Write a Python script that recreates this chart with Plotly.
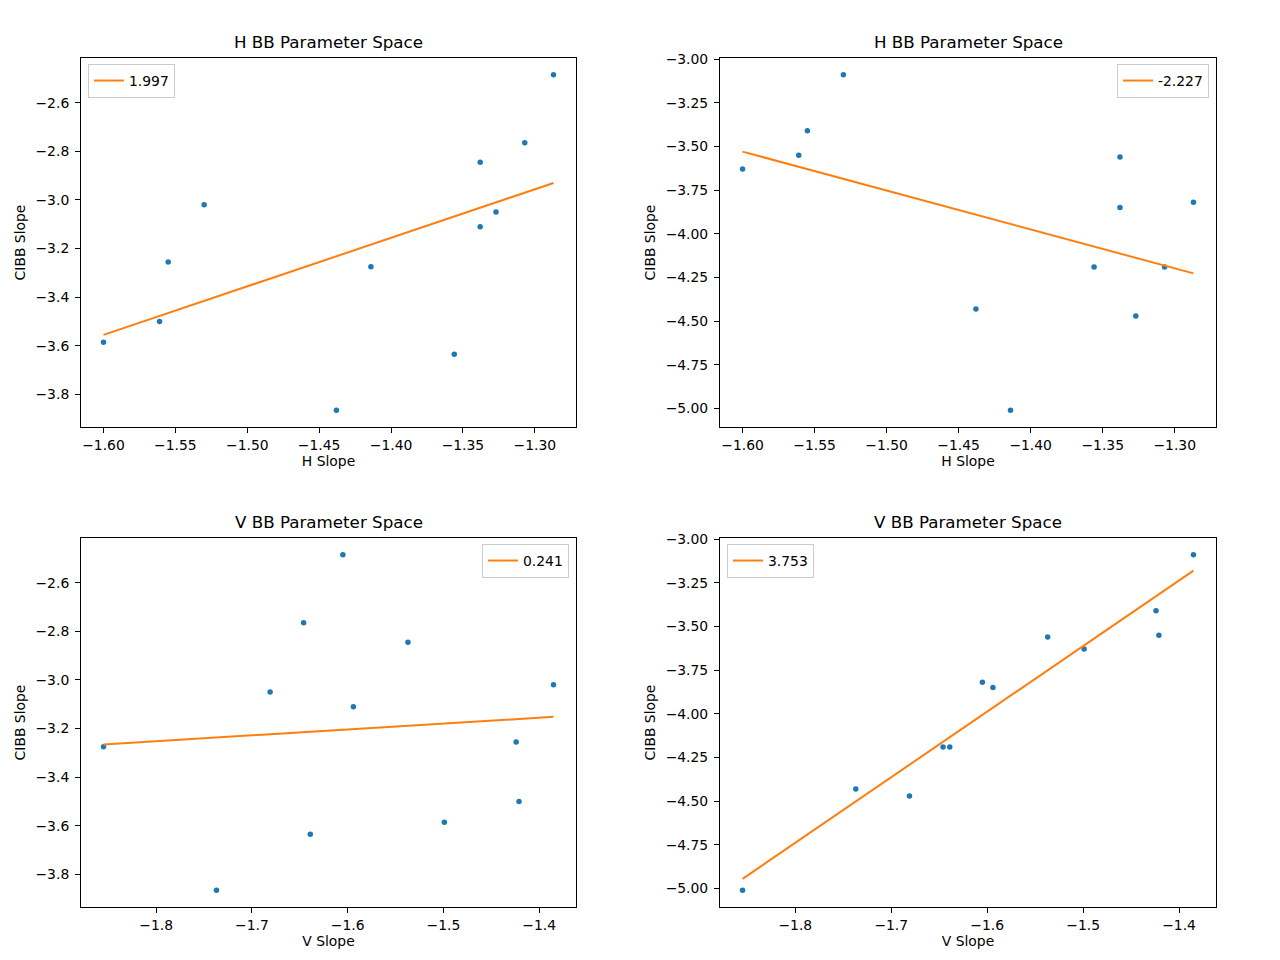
import plotly.graph_objects as go

# one entry per observation
h_slope = [-1.600, -1.561, -1.555, -1.530, -1.438, -1.414, -1.356, -1.338, -1.338, -1.327, -1.307, -1.287]
v_slope = [-1.499, -1.421, -1.424, -1.385, -1.737, -1.855, -1.639, -1.537, -1.594, -1.681, -1.646, -1.605]
cibb_h = [-3.585, -3.500, -3.255, -3.020, -3.865, -3.275, -3.635, -2.845, -3.110, -3.050, -2.765, -2.485]
cibb_v = [-3.630, -3.550, -3.410, -3.090, -4.430, -5.010, -4.190, -3.560, -3.850, -4.470, -4.190, -3.820]

# fitted lines (slope, intercept) as shown in the legends
fit_tl = (1.997, -0.360)
fit_tr = (-2.227, -7.093)
fit_bl = (0.241, -2.818)
fit_br = (3.753, 2.017)

BLUE = "#1f77b4"
ORANGE = "#ff7f0e"
FONT = "DejaVu Sans"


def pad_range(vals):
    lo, hi = min(vals), max(vals)
    d = (hi - lo) * 0.05
    return [lo - d, hi + d]


panels = [
    # x, y, fit, title, xlabel, legend position, x domain, y domain, tick formats
    (h_slope, cibb_h, fit_tl, "H BB Parameter Space", "H Slope", "left",
     [81 / 1280, 576 / 1280], [1 - 427 / 960, 1 - 58 / 960], ".2f", ".1f"),
    (h_slope, cibb_v, fit_tr, "H BB Parameter Space", "H Slope", "right",
     [720 / 1280, 1216 / 1280], [1 - 427 / 960, 1 - 58 / 960], ".2f", ".2f"),
    (v_slope, cibb_h, fit_bl, "V BB Parameter Space", "V Slope", "right",
     [81 / 1280, 576 / 1280], [1 - 907 / 960, 1 - 538 / 960], ".1f", ".1f"),
    (v_slope, cibb_v, fit_br, "V BB Parameter Space", "V Slope", "left",
     [720 / 1280, 1216 / 1280], [1 - 907 / 960, 1 - 538 / 960], ".1f", ".2f"),
]

fig = go.Figure()
layout = dict(
    width=1280, height=960,
    margin=dict(l=0, r=0, t=0, b=0, autoexpand=False),
    paper_bgcolor="white", plot_bgcolor="white",
    font=dict(family=FONT, size=13.9, color="black"),
    annotations=[],
)

for i, (xs, ys, fit, title, xlab, legpos, xdom, ydom, xfmt, yfmt) in enumerate(panels):
    n = i + 1
    xa = "x" if n == 1 else "x%d" % n
    ya = "y" if n == 1 else "y%d" % n
    leg = "legend" if n == 1 else "legend%d" % n
    m, b = fit
    fit_y = [m * x + b for x in xs]

    fig.add_trace(go.Scatter(
        x=xs, y=ys, mode="markers", xaxis=xa, yaxis=ya,
        marker=dict(color=BLUE, size=5.5), showlegend=False))
    fig.add_trace(go.Scatter(
        x=xs, y=fit_y, mode="lines", xaxis=xa, yaxis=ya,
        line=dict(color=ORANGE, width=2), name="%.3f" % m, legend=leg))

    yr = pad_range(list(ys) + fit_y)
    xr = pad_range(xs)
    ax_common = dict(showgrid=False, zeroline=False, showline=True, mirror=True,
                     linecolor="black", linewidth=1, ticks="outside", ticklen=5,
                     tickwidth=1, tickcolor="black", automargin=False,
                     tickfont=dict(family=FONT, size=13.9, color="black"))
    layout["xaxis" if n == 1 else "xaxis%d" % n] = dict(
        ax_common, domain=xdom, range=xr, anchor=ya, tickformat=xfmt,
        dtick=0.05 if xfmt == ".2f" else 0.1,
        title=dict(text=xlab, standoff=4, font=dict(family=FONT, size=13.9)))
    layout["yaxis" if n == 1 else "yaxis%d" % n] = dict(
        ax_common, domain=ydom, range=yr, anchor=xa, tickformat=yfmt,
        dtick=0.2 if yfmt == ".1f" else 0.25, ticklabelstandoff=3,
        title=dict(text="CIBB Slope", standoff=6, font=dict(family=FONT, size=13.9)))
    layout["annotations"].append(dict(
        text=title, xref="paper", yref="paper", x=(xdom[0] + xdom[1]) / 2,
        y=ydom[1], xanchor="center", yanchor="bottom", yshift=4, showarrow=False,
        font=dict(family=FONT, size=16.7, color="black")))
    pad = 7 / 1280
    layout[leg] = dict(
        x=xdom[0] + pad if legpos == "left" else xdom[1] - pad,
        xanchor=legpos, y=ydom[1] - 6 / 960, yanchor="top",
        bgcolor="rgba(255,255,255,0.8)", bordercolor="#cccccc", borderwidth=1,
        font=dict(family=FONT, size=13.9, color="black"))

fig.update_layout(**layout)
# drop the browser's default page margin so the figure sits at the top-left corner
fig.write_html("out.html", config={"displayModeBar": False},
               post_script="document.body.style.margin='0px';")
